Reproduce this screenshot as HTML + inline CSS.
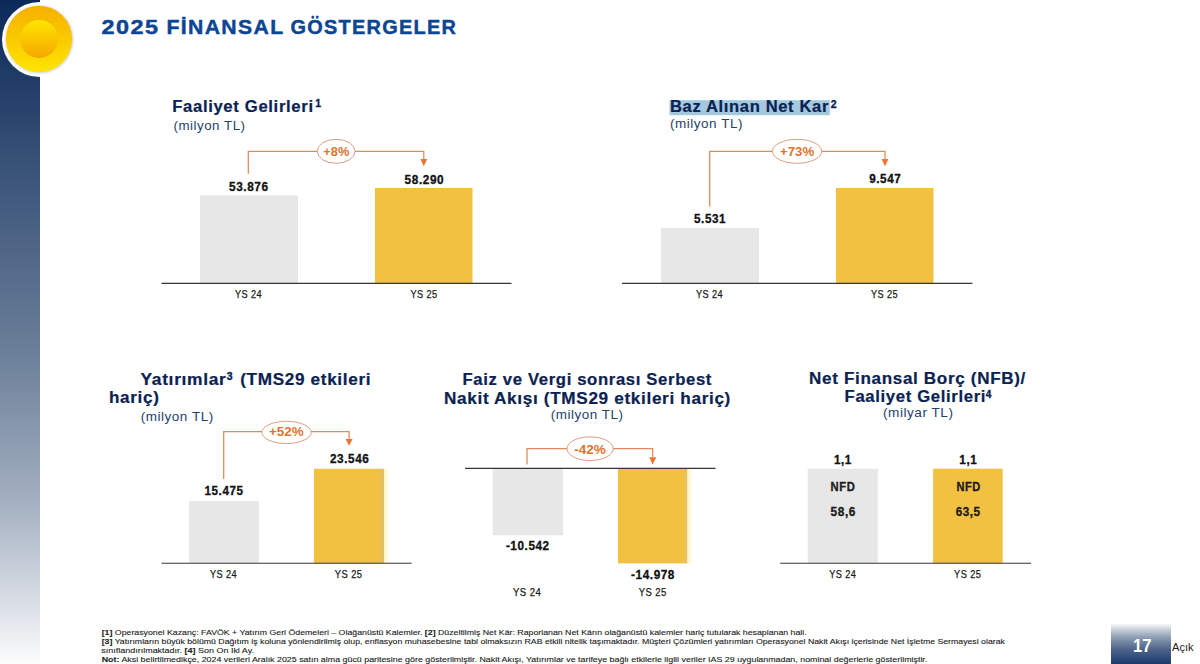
<!DOCTYPE html>
<html><head><meta charset="utf-8">
<style>
html,body{margin:0;padding:0;background:#fff;}
body{width:1200px;height:664px;overflow:hidden;position:relative;}
svg{display:block;}
text{font-family:"Liberation Sans",sans-serif;}
.nb{font-weight:bold;fill:#0a2252;stroke:#0a2252;stroke-width:0.2;letter-spacing:0.6px;}
.sup{font-weight:bold;fill:#0a2252;stroke:#0a2252;stroke-width:0.35;}
.sub{fill:#253f6a;letter-spacing:0.5px;}
.val{font-weight:bold;fill:#111;stroke:#111;stroke-width:0.3;letter-spacing:0.6px;}
.lab{fill:#1a1a1a;stroke:#1a1a1a;stroke-width:0.25;letter-spacing:0.5px;}
.pct{fill:#e0742e;font-weight:bold;}
</style></head>
<body>
<svg width="1200" height="664" viewBox="0 0 1200 664">
<defs>
<linearGradient id="lbar" x1="0" y1="0" x2="0" y2="1">
<stop offset="0" stop-color="#0b2a5a"/>
<stop offset="0.133" stop-color="#233f68"/>
<stop offset="0.30" stop-color="#425a7e"/>
<stop offset="0.527" stop-color="#6a7e98"/>
<stop offset="0.753" stop-color="#a3afc0"/>
<stop offset="0.934" stop-color="#e3e6ec"/>
<stop offset="1" stop-color="#fdfdfe"/>
</linearGradient>
<linearGradient id="sunO" x1="0" y1="0" x2="0" y2="1">
<stop offset="0" stop-color="#f5b000"/>
<stop offset="1" stop-color="#ffe400"/>
</linearGradient>
<linearGradient id="sunI" x1="0" y1="0" x2="0" y2="1">
<stop offset="0" stop-color="#ffe600"/>
<stop offset="1" stop-color="#f5a600"/>
</linearGradient>
<linearGradient id="pg" x1="0" y1="0" x2="0" y2="1">
<stop offset="0" stop-color="#f6f7f9"/>
<stop offset="0.14" stop-color="#c8d0da"/>
<stop offset="0.345" stop-color="#8a9ab2"/>
<stop offset="0.5" stop-color="#6a7c9a"/>
<stop offset="0.66" stop-color="#4a6088"/>
<stop offset="0.825" stop-color="#324e7c"/>
<stop offset="1" stop-color="#1e3a6c"/>
</linearGradient>
<linearGradient id="glow" x1="0" y1="0" x2="1" y2="0">
<stop offset="0" stop-color="#fff6c0"/>
<stop offset="1" stop-color="#ffffff"/>
</linearGradient>
<linearGradient id="band" x1="0" y1="0" x2="1" y2="0">
<stop offset="0" stop-color="#f2c141"/>
<stop offset="1" stop-color="#dcc070"/>
</linearGradient>
<filter id="sh" x="-20%" y="-20%" width="140%" height="140%"><feGaussianBlur stdDeviation="1.2"/></filter>
<filter id="bl" x="-20%" y="-20%" width="140%" height="140%"><feGaussianBlur stdDeviation="0.6"/></filter>
</defs>
<!-- left bar -->
<rect x="0" y="0" width="40" height="664" fill="url(#lbar)"/>
<circle cx="39.5" cy="39.5" r="37.5" fill="#fff"/>
<circle cx="39.5" cy="39.5" r="34" fill="#d8d8dc" filter="url(#sh)"/><circle cx="39" cy="39" r="33.2" fill="url(#sunO)"/>
<circle cx="39" cy="39" r="19" fill="url(#sunI)" filter="url(#bl)"/>
<!-- title -->
<g font-size="20.3" font-weight="bold" fill="#0b4593" stroke="#0b4593" stroke-width="0.45" style="letter-spacing:1.3px">
<text x="101.5" y="33.8" textLength="58" lengthAdjust="spacingAndGlyphs">2025</text>
<text x="166.5" y="33.8" textLength="118" lengthAdjust="spacingAndGlyphs">FİNANSAL</text>
<text x="290.6" y="33.8" textLength="166.5" lengthAdjust="spacingAndGlyphs">GÖSTERGELER</text>
</g>

<!-- chart 1 -->
<text x="172.20" y="112" font-size="15.6" class="nb" textLength="141.50" lengthAdjust="spacingAndGlyphs">Faaliyet Gelirleri</text>
<text x="315.2" y="106.6" font-size="10.5" class="sup">1</text>
<text x="173.5" y="129.8" font-size="12.8" class="sub" textLength="72.0" lengthAdjust="spacingAndGlyphs">(milyon TL)</text>
<rect x="200" y="195.5" width="98" height="87.5" fill="#e7e7e7"/>
<rect x="375" y="188" width="97.5" height="95" fill="#f2c141"/>
<line x1="161.5" y1="283.3" x2="511.5" y2="283.3" stroke="#363636" stroke-width="1.15"/>
<text x="229" y="190.8" font-size="12.2" class="val" textLength="39.6" lengthAdjust="spacingAndGlyphs">53.876</text>
<text x="404.6" y="183.7" font-size="12.2" class="val" textLength="39.6" lengthAdjust="spacingAndGlyphs">58.290</text>
<text x="235" y="298" font-size="11" class="lab" textLength="27" lengthAdjust="spacingAndGlyphs">YS 24</text>
<text x="410.5" y="298" font-size="11" class="lab" textLength="27" lengthAdjust="spacingAndGlyphs">YS 25</text>
<path d="M248.3 173.7 V151.3 H423.8 V160" fill="none" stroke="#de8a5c" stroke-width="1.25"/>
<path d="M420.4 159 L427.2 159 L423.8 166.2 Z" fill="#ec7430"/>
<ellipse cx="336.1" cy="151.3" rx="18.9" ry="12" fill="#fff" stroke="#dc9d80" stroke-width="1"/>
<text x="323.3" y="156.2" font-size="13.6" class="pct" textLength="26" lengthAdjust="spacingAndGlyphs">+8%</text>

<!-- chart 2 -->
<rect x="669.5" y="100.2" width="160.3" height="15" fill="#a4c8de"/>
<text x="670.00" y="111.8" font-size="15.6" class="nb" textLength="159.00" lengthAdjust="spacingAndGlyphs">Baz Alınan Net Kar</text>
<text x="830.8" y="107.7" font-size="10.5" class="sup">2</text>
<text x="670" y="127.7" font-size="12.8" class="sub" textLength="73.0" lengthAdjust="spacingAndGlyphs">(milyon TL)</text>
<rect x="661" y="228" width="98" height="55" fill="#e7e7e7"/>
<rect x="836" y="188" width="97.5" height="95" fill="#f2c141"/>
<line x1="622" y1="283.3" x2="972.4" y2="283.3" stroke="#363636" stroke-width="1.15"/>
<text x="694" y="223.4" font-size="12.2" class="val" textLength="32.1" lengthAdjust="spacingAndGlyphs">5.531</text>
<text x="869.2" y="183.3" font-size="12.2" class="val" textLength="32.1" lengthAdjust="spacingAndGlyphs">9.547</text>
<text x="696" y="298" font-size="11" class="lab" textLength="27" lengthAdjust="spacingAndGlyphs">YS 24</text>
<text x="871" y="298" font-size="11" class="lab" textLength="27" lengthAdjust="spacingAndGlyphs">YS 25</text>
<path d="M709.7 206.4 V151.3 H885 V160" fill="none" stroke="#de8a5c" stroke-width="1.25"/>
<path d="M881.6 159 L888.4 159 L885 166.2 Z" fill="#ec7430"/>
<ellipse cx="797.1" cy="151.3" rx="24.6" ry="12" fill="#fff" stroke="#dc9d80" stroke-width="1"/>
<text x="780" y="156.2" font-size="13.6" class="pct" textLength="34.2" lengthAdjust="spacingAndGlyphs">+73%</text>

<!-- chart 3 -->
<text x="140.5" y="384.6" font-size="15.6" class="nb" textLength="86" lengthAdjust="spacingAndGlyphs">Yatırımlar</text><text x="226.8" y="380.2" font-size="10.5" class="sup">3</text><text x="240.2" y="384.6" font-size="15.6" class="nb" textLength="131" lengthAdjust="spacingAndGlyphs">(TMS29 etkileri</text>
<text x="109.00" y="402.8" font-size="15.6" class="nb" textLength="50.50" lengthAdjust="spacingAndGlyphs">hariç)</text>
<text x="140.8" y="420.6" font-size="12.8" class="sub" textLength="72.9" lengthAdjust="spacingAndGlyphs">(milyon TL)</text>
<rect x="189" y="501" width="70" height="62" fill="#e7e7e7"/>
<rect x="314" y="468.8" width="64" height="94.2" fill="#f2c141"/><rect x="378" y="468.8" width="6" height="94.2" fill="url(#band)"/><rect x="384" y="468.8" width="6" height="94.2" fill="url(#glow)"/>
<line x1="161.5" y1="563.25" x2="411.6" y2="563.25" stroke="#363636" stroke-width="1.15"/>
<text x="204.5" y="495.2" font-size="12.2" class="val" textLength="39.0" lengthAdjust="spacingAndGlyphs">15.475</text>
<text x="330" y="463.0" font-size="12.2" class="val" textLength="39.4" lengthAdjust="spacingAndGlyphs">23.546</text>
<text x="210.1" y="577.9" font-size="11" class="lab" textLength="27" lengthAdjust="spacingAndGlyphs">YS 24</text>
<text x="334.8" y="577.9" font-size="11" class="lab" textLength="27.6" lengthAdjust="spacingAndGlyphs">YS 25</text>
<path d="M223.7 478.9 V431.5 H349.1 V440" fill="none" stroke="#de8a5c" stroke-width="1.25"/>
<path d="M345.6 438.9 L352.6 438.9 L349.1 445.8 Z" fill="#ec7430"/>
<ellipse cx="286.5" cy="432.4" rx="24.7" ry="11.1" fill="#fff" stroke="#dc9d80" stroke-width="1"/>
<text x="269" y="435.9" font-size="13.6" class="pct" textLength="34.6" lengthAdjust="spacingAndGlyphs">+52%</text>

<!-- chart 4 -->
<text x="462.50" y="385.2" font-size="15.6" class="nb" textLength="249.50" lengthAdjust="spacingAndGlyphs">Faiz ve Vergi sonrası Serbest</text>
<text x="444.00" y="403.5" font-size="15.6" class="nb" textLength="287.00" lengthAdjust="spacingAndGlyphs">Nakit Akışı (TMS29 etkileri hariç)</text>
<text x="550.7" y="418.8" font-size="12.8" class="sub" textLength="72.9" lengthAdjust="spacingAndGlyphs">(milyon TL)</text>
<rect x="492.7" y="469" width="70.4" height="66.2" fill="#e7e7e7"/>
<rect x="618" y="469" width="65" height="94.4" fill="#f2c141"/><rect x="683" y="469" width="4.5" height="94.4" fill="url(#band)"/><rect x="687.5" y="469" width="5.5" height="94.4" fill="url(#glow)"/>
<line x1="465" y1="468.4" x2="715.5" y2="468.4" stroke="#363636" stroke-width="1.15"/>
<text x="505.9" y="550.2" font-size="12.2" class="val" textLength="43.8" lengthAdjust="spacingAndGlyphs">-10.542</text>
<text x="631.1" y="578.9" font-size="12.2" class="val" textLength="43.9" lengthAdjust="spacingAndGlyphs">-14.978</text>
<text x="513" y="595.8" font-size="11" class="lab" textLength="28.2" lengthAdjust="spacingAndGlyphs">YS 24</text>
<text x="638.8" y="595.8" font-size="11" class="lab" textLength="27.9" lengthAdjust="spacingAndGlyphs">YS 25</text>
<path d="M527 464.5 V448.7 H652.7 V457" fill="none" stroke="#de8a5c" stroke-width="1.25"/>
<path d="M649.2 457.2 L656.2 457.2 L652.7 464.4 Z" fill="#ec7430"/>
<ellipse cx="590.1" cy="448.7" rx="23.1" ry="11.85" fill="#fff" stroke="#dc9d80" stroke-width="1"/>
<text x="574.2" y="453.5" font-size="13.6" class="pct" textLength="31.6" lengthAdjust="spacingAndGlyphs">-42%</text>

<!-- chart 5 -->
<text x="809.00" y="384" font-size="15.6" class="nb" textLength="217.00" lengthAdjust="spacingAndGlyphs">Net Finansal Borç (NFB)/</text>
<text x="844.6" y="402.4" font-size="15.6" class="nb" textLength="141.5" lengthAdjust="spacingAndGlyphs">Faaliyet Gelirleri</text>
<text x="985.8" y="397.5" font-size="10" class="sup">4</text>
<text x="883" y="417.3" font-size="12.8" class="sub" textLength="70.5" lengthAdjust="spacingAndGlyphs">(milyar TL)</text>
<rect x="807.7" y="468.7" width="70.1" height="94.3" fill="#e7e7e7"/>
<rect x="933.1" y="468.7" width="69.6" height="94.3" fill="#f2c141"/>
<line x1="780.2" y1="563.25" x2="1031" y2="563.25" stroke="#363636" stroke-width="1.15"/>
<text x="833.9" y="463.5" font-size="12.2" class="val" textLength="18.0" lengthAdjust="spacingAndGlyphs">1,1</text>
<text x="959.3" y="463.5" font-size="12.2" class="val" textLength="18.0" lengthAdjust="spacingAndGlyphs">1,1</text>
<text x="830.6" y="490.7" font-size="12.2" class="val" textLength="24.7" lengthAdjust="spacingAndGlyphs" style="fill:#222">NFD</text>
<text x="956.4" y="490.7" font-size="12.2" class="val" textLength="24.3" lengthAdjust="spacingAndGlyphs" style="fill:#222">NFD</text>
<text x="830.6" y="516.2" font-size="12.2" class="val" textLength="25.4" lengthAdjust="spacingAndGlyphs" style="fill:#222">58,6</text>
<text x="955.7" y="516.2" font-size="12.2" class="val" textLength="25.0" lengthAdjust="spacingAndGlyphs" style="fill:#222">63,5</text>
<text x="829.2" y="577.8" font-size="11" class="lab" textLength="27.1" lengthAdjust="spacingAndGlyphs">YS 24</text>
<text x="954.1" y="577.8" font-size="11" class="lab" textLength="27.2" lengthAdjust="spacingAndGlyphs">YS 25</text>

<!-- footer -->
<g font-size="8.1" fill="#1c1c1c" stroke="#1c1c1c" stroke-width="0.12">
<text x="101.7" y="635.1" textLength="705" lengthAdjust="spacingAndGlyphs"><tspan font-weight="bold">[1]</tspan> Operasyonel Kazanç: FAVÖK + Yatırım Geri Ödemeleri – Olağanüstü Kalemler. <tspan font-weight="bold">[2]</tspan> Düzeltilmiş Net Kâr: Raporlanan Net Kârın olağanüstü kalemler hariç tutularak hesaplanan hali.</text>
<text x="101.7" y="644" textLength="903.2" lengthAdjust="spacingAndGlyphs"><tspan font-weight="bold">[3]</tspan> Yatırımların büyük bölümü Dağıtım iş koluna yönlendirilmiş olup, enflasyon muhasebesine tabi olmaksızın RAB etkili nitelik taşımaktadır. Müşteri Çözümleri yatırımları Operasyonel Nakit Akışı içerisinde Net İşletme Sermayesi olarak</text>
<text x="101.3" y="653.1" textLength="152.7" lengthAdjust="spacingAndGlyphs">sınıflandırılmaktadır. <tspan font-weight="bold">[4]</tspan> Son On İki Ay.</text>
<text x="101.7" y="662" textLength="825.6" lengthAdjust="spacingAndGlyphs"><tspan font-weight="bold">Not:</tspan> Aksi belirtilmedikçe, 2024 verileri Aralık 2025 satın alma gücü paritesine göre gösterilmiştir. Nakit Akışı, Yatırımlar ve tarifeye bağlı etkilerle ilgili veriler IAS 29 uygulanmadan, nominal değerlerle gösterilmiştir.</text>
</g>

<!-- page number -->
<rect x="1111" y="624" width="60" height="40" fill="url(#pg)"/>
<text x="1133" y="652.2" font-size="17.8" font-weight="bold" fill="#fff" textLength="18.6" lengthAdjust="spacingAndGlyphs">17</text>
<text x="1172" y="651" font-size="10.7" fill="#222" textLength="21.6" lengthAdjust="spacingAndGlyphs">Açık</text>
</svg>
</body></html>
